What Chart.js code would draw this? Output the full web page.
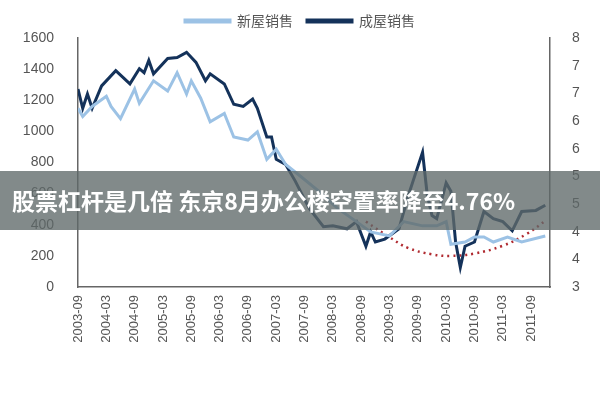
<!DOCTYPE html>
<html><head><meta charset="utf-8">
<script src="https://cdn.jsdelivr.net/npm/chart.js@4"></script>
<style>
body{margin:0;background:#fff;}
#wrap{position:relative;width:600px;height:400px;}
#banner{position:absolute;left:0;top:171px;width:600px;height:59px;background:rgba(95,105,105,0.78);color:#fff;font:bold 23px "Noto Sans CJK SC",sans-serif;line-height:59px;padding-left:12px;box-sizing:border-box;white-space:nowrap;overflow:hidden;}
</style></head>
<body><div id="wrap"><canvas id="c" width="600" height="400"></canvas>
<div id="banner">股票杠杆是几倍 东京8月办公楼空置率降至4.76%</div></div>
<script>
const tickLabels=["2003-09","2004-03","2004-09","2005-03","2005-09","2006-03","2006-09","2007-03","2007-09","2008-03","2008-09","2009-03","2009-09","2010-03","2010-09","2011-03","2011-09"];
const newMonths=[0,1,3,6,7,9,12,13,16,19,21,23,24,26,28,31,33,36,38,40,42,44,47,51,55,59,62,66,69,73,76,78,79,82,84,86,88,91,94,99];
const newSales=[1148,1095,1160,1226,1160,1082,1272,1180,1325,1259,1377,1240,1325,1213,1062,1115,964,944,997,820,885,787,715,616,505,420,354,328,420,393,393,420,275,289,321,321,289,321,289,328];
const existMonths=[0,1,2,3,5,8,11,13,14,15,16,19,21,23,25,27,28,31,33,35,37,38,40,41,42,44,46,49,52,54,57,59,61,62,63,65,68,70,71,73,74,75,76,78,79,80,81,82,84,86,88,90,92,94,97,99];
const existSales=[1272,1148,1240,1148,1292,1390,1305,1403,1377,1456,1370,1469,1475,1508,1443,1325,1370,1305,1174,1160,1207,1148,964,964,820,787,682,505,387,393,374,420,262,354,289,308,374,590,682,866,590,459,439,669,616,289,125,262,289,485,439,420,361,485,492,525];
const trendMonths=[61,66,70,75,79,84,90,95,99];
const trendValues=[420,320,250,210,200,215,265,340,425];
const rightTicks=[3,3.556,4.111,4.667,5.222,5.778,6.333,6.889,7.444,8];
const pts=(xs,ys)=>xs.map((x,i)=>({x:x,y:ys[i]}));
const txt='#555';
new Chart(document.getElementById('c'),{
type:'line',
data:{datasets:[
{label:'新屋销售',data:pts(newMonths,newSales),borderColor:'#9cc2e5',borderWidth:3,pointRadius:0,tension:0,yAxisID:'y'},
{label:'成屋销售',data:pts(existMonths,existSales),borderColor:'#14325a',borderWidth:3,pointRadius:0,tension:0,yAxisID:'y'},
{label:'trend',data:pts(trendMonths,trendValues),borderColor:'#b02a30',borderWidth:2.5,borderDash:[2,4],pointRadius:0,tension:0.4,yAxisID:'y'}
]},
options:{responsive:false,animation:false,
layout:{padding:{top:0,left:0,right:0,bottom:0}},
plugins:{tooltip:{enabled:false},
legend:{position:'top',align:'center',labels:{filter:i=>i.text!=='trend',boxWidth:45,boxHeight:2,color:txt,font:{family:'"Noto Sans CJK SC"',size:14},padding:14}}},
scales:{
x:{type:'linear',min:0,max:100,grid:{display:false,drawTicks:false},border:{color:'#666',width:1.5},
 afterBuildTicks:a=>{a.ticks=tickLabels.map((t,i)=>({value:i*6}));},
 ticks:{callback:(v)=>tickLabels[v/6],maxRotation:90,minRotation:90,autoSkip:false,color:txt,font:{family:'Liberation Sans',size:13},padding:8},
 afterFit:a=>{a.height=113;}},
y:{min:0,max:1600,position:'left',grid:{display:false},border:{color:'#666',width:1.5},
 ticks:{stepSize:200,callback:v=>String(v),color:txt,font:{family:'Liberation Sans',size:14},padding:16},afterFit:a=>{a.width=78;}},
y1:{min:3,max:8,position:'right',grid:{display:false},border:{color:'#666',width:1.5},
 afterBuildTicks:a=>{a.ticks=rightTicks.map(v=>({value:v}));},
 ticks:{callback:v=>Math.round(v),color:txt,font:{family:'Liberation Sans',size:14},padding:14},afterFit:a=>{a.width=50;}}
}}});
</script></body></html>
